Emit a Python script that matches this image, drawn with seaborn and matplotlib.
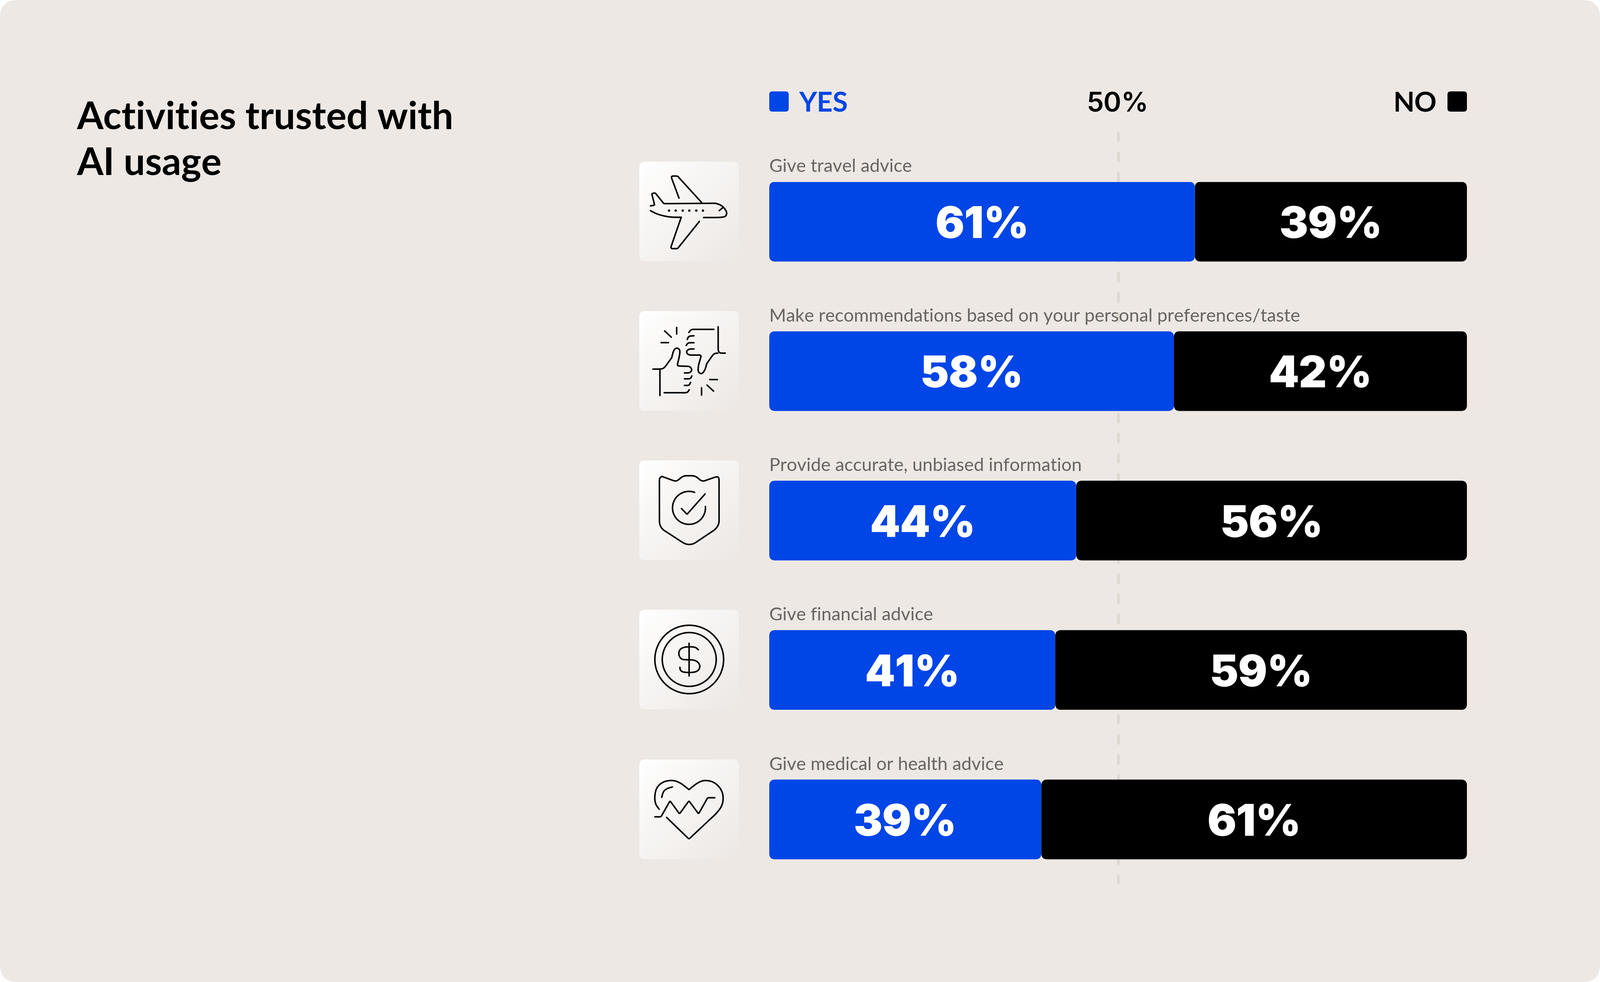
import numpy as np
import pandas as pd
import seaborn as sns
import matplotlib
matplotlib.use("Agg")
import matplotlib.pyplot as plt
from matplotlib.patches import FancyBboxPatch

# ---------- data ----------
activities = [
    "Give travel advice",
    "Make recommendations based on your personal preferences/taste",
    "Provide accurate, unbiased information",
    "Give financial advice",
    "Give medical or health advice",
]
yes_values = [61, 58, 44, 41, 39]
no_values = [39, 42, 56, 59, 61]
reference_line = 50
title_lines = ["Activities trusted with", "AI usage"]

# ---------- style ----------
W, H = 4112, 2525
BG = "#EDE8E4"
BLUE = "#0045E6"
BLACK = "#000000"
GREY = "#666461"
DASH = "#DED8D1"
sns.set_theme(style="white")
plt.rcParams["font.family"] = ["Lato", "DejaVu Sans"]

fig = plt.figure(figsize=(W / 100, H / 100), dpi=100, facecolor="white")

# pixel-space layer for page furniture
page = fig.add_axes([0, 0, 1, 1], zorder=0)
page.set_xlim(0, W)
page.set_ylim(H, 0)
page.axis("off")
page.add_patch(FancyBboxPatch((45, 45), W - 90, H - 90,
                              boxstyle="round,pad=45,rounding_size=45",
                              fc=BG, ec="none", zorder=0))


def round_corners(pts, r):
    """Replace each interior vertex by a quadratic arc cutting r px along both segments."""
    p = np.asarray(pts, float)
    if len(p) < 3:
        return p
    out = [p[0]]
    t = np.linspace(0, 1, 14)[:, None]
    for i in range(1, len(p) - 1):
        a, b, c = p[i - 1], p[i], p[i + 1]
        la, lc = np.linalg.norm(a - b), np.linalg.norm(c - b)
        s = b + (a - b) * min(r, la / 2) / la
        e = b + (c - b) * min(r, lc / 2) / lc
        out.extend((1 - t) ** 2 * s + 2 * t * (1 - t) * b + t ** 2 * e)
    out.append(p[-1])
    return np.vstack(out)


# ---------- icons (strokes in the tracing space: corner radius, points) ----------
TILE_X = 1643
TILE_W = 256
TILE_H = 256
TILE_BOTTOMS = [672, 1056, 1440, 1824, 2209]
grad = np.linspace(0, 1, 256)
gx, gy = np.meshgrid(grad, grad)
g = ((gx + gy) / 2)[..., None]
top = np.array(matplotlib.colors.to_rgb("#FFFFFF"))
bot = np.array(matplotlib.colors.to_rgb(BG))
tile_img = top * (1 - g) + bot * g

SOFT = 1000
plane = dict(sx=1.568, sy=3.0, ox=68, oy=705, strokes=[
    (3, [(228, 985), (197, 825), (200, 815), (222, 815), (322, 1025)]),
    (3, [(113, 1045), (130, 1040), (118, 950), (132, 945), (167, 1028), (375, 1025)]),
    (SOFT, [(375, 1025), (400, 1040), (420, 1085), (420, 1115), (410, 1135), (327, 1135)]),
    (3, [(390, 1082), (407, 1055)]),
    (SOFT, [(113, 1082), (140, 1110), (190, 1133), (237, 1133)]),
    (3, [(237, 1133), (195, 1365), (198, 1375), (222, 1375), (310, 1165)]),
], dots=[(187, 1081), (214, 1081), (242, 1081), (269, 1081), (297, 1081), (324, 1081)])
thumbs = dict(sx=3.0, sy=2.24, ox=130, oy=42, strokes=[
    (3, [(290, 380), (290, 528)]),
    (10, [(235, 376), (290, 376), (320, 372), (380, 310)]),
    (SOFT, [(380, 310), (395, 265), (420, 252), (445, 265), (440, 300), (425, 345)]),
    (6, [(425, 345), (425, 358), (520, 360), (538, 380), (520, 398), (478, 398)]),
    (6, [(478, 432), (525, 432), (535, 415)]),
    (6, [(478, 470), (515, 470), (525, 452)]),
    (6, [(322, 512), (500, 512), (515, 495)]),
    (6, [(738, 132), (738, 270), (750, 284), (793, 284)]),
    (10, [(735, 284), (705, 286), (650, 345)]),
    (SOFT, [(650, 345), (635, 385), (610, 405), (585, 395), (582, 365), (605, 305)]),
    (6, [(605, 305), (605, 295), (510, 295), (490, 278), (510, 260), (552, 260)]),
    (6, [(552, 224), (505, 224), (492, 240)]),
    (6, [(552, 184), (510, 186), (500, 205)]),
    (6, [(705, 147), (530, 147), (512, 165)]),
    (3, [(417, 135), (417, 175)]), (3, [(325, 156), (377, 192)]), (3, [(297, 223), (355, 223)]),
    (3, [(673, 436), (732, 436)]), (3, [(652, 468), (703, 503)]), (3, [(611, 484), (611, 525)]),
], dots=[])
shield = dict(sx=3.0, sy=2.24, ox=130, oy=905, strokes=[
    (8, [(305, 997), (285, 1005), (285, 1270), (305, 1300), (480, 1385), (515, 1390), (550, 1385), (720, 1300),
         (745, 1270), (745, 1005), (730, 997), (615, 1027), (560, 993), (470, 993), (415, 1027), (305, 997)]),
    (2, [(455, 1182), (498, 1215), (637, 1098)]),
], dots=[], arcs=[((513, 1178), 127, 95, 70, 365)])
coin = dict(sx=3.0, sy=2.24, ox=130, oy=62, strokes=[
    (2, [(515, 255), (515, 443)]),
    (SOFT, [(585, 292), (560, 275), (480, 275), (440, 290), (432, 320), (450, 345), (480, 350), (560, 350),
            (598, 375), (595, 405), (560, 423), (470, 423), (445, 410), (443, 393)]),
], dots=[], arcs=[((515, 348), 265, 197, 0, 360), ((515, 348), 208, 155, 0, 360)])
heart = dict(sx=3.0, sy=2.24, ox=130, oy=922, strokes=[
    (SOFT, [(283, 1208), (255, 1180), (247, 1140), (260, 1085), (310, 1050), (380, 1040), (440, 1052), (513, 1095)]),
    (SOFT, [(513, 1095), (585, 1052), (640, 1040), (710, 1052), (765, 1095), (780, 1145), (765, 1195), (720, 1235)]),
    (3, [(720, 1235), (513, 1380), (340, 1255)]),
    (SOFT, [(303, 1140), (315, 1105), (345, 1088), (385, 1080)]),
    (3, [(250, 1252), (297, 1252), (367, 1160), (440, 1235), (513, 1160), (587, 1235), (657, 1142), (712, 1142)]),
], dots=[])
icons = [plane, thumbs, shield, coin, heart]

for bottom, ic in zip(TILE_BOTTOMS, icons):
    ty = bottom - TILE_H
    im = page.imshow(tile_img, extent=(TILE_X, TILE_X + TILE_W, ty + TILE_H, ty),
                     aspect="auto", zorder=1, interpolation="bilinear")
    clip = FancyBboxPatch((TILE_X + 14, ty + 14), TILE_W - 28, TILE_H - 28,
                          boxstyle="round,pad=14,rounding_size=14",
                          transform=page.transData, fc="none", ec="none")
    page.add_patch(clip)
    im.set_clip_path(clip)

    def to_tile(points):
        p = np.asarray(points, float)
        return np.c_[TILE_X + (p[:, 0] - ic["ox"]) / ic["sx"], ty + (p[:, 1] - ic["oy"]) / ic["sy"]]

    for r, s in ic["strokes"]:
        pts = round_corners(to_tile(s), r)
        page.plot(pts[:, 0], pts[:, 1], color="black", lw=2.8, solid_capstyle="round",
                  solid_joinstyle="round", zorder=2)
    for (cx, cy), rx, ry, a0, a1 in ic.get("arcs", []):
        t = np.radians(np.linspace(a0, a1, 120))
        pts = to_tile(np.c_[cx + rx * np.cos(t), cy - ry * np.sin(t)])
        page.plot(pts[:, 0], pts[:, 1], color="black", lw=2.8, solid_capstyle="round", zorder=2)
    if ic["dots"]:
        d = to_tile(ic["dots"])
        page.scatter(d[:, 0], d[:, 1], s=20, color="black", linewidths=0, zorder=2)
page.set_xlim(0, W)
page.set_ylim(H, 0)

# ---------- title ----------
for i, line in enumerate(title_lines):
    page.text(198, 331 + i * 119, line, fontsize=70.5, fontweight="bold", color="black",
              ha="left", va="baseline", zorder=3)

# ---------- bars ----------
BAR_L, BAR_R = 1977, 3770
ROW = 384.25
FIRST_C = 570
ax_top, ax_bot = 330, 2290
ax = fig.add_axes([BAR_L / W, 1 - ax_bot / H, (BAR_R - BAR_L) / W, (ax_bot - ax_top) / H], zorder=1)
ax.patch.set_alpha(0)

df = pd.DataFrame({"activity": activities, "yes": yes_values, "no": no_values})
BAR_FRAC = 205 / ROW
px2y = 1 / ROW

ax.vlines(reference_line, (338 - FIRST_C) * px2y, (2272 - FIRST_C) * px2y,
          color=DASH, lw=5.04, linestyles=(0, (3.71, 3.67)), capstyle="butt", zorder=0)

sns.barplot(data=df, x="yes", y="activity", orient="h", color=BLUE, width=BAR_FRAC,
            saturation=1, linewidth=0, ax=ax, zorder=2)
sns.barplot(data=df, x="no", y="activity", orient="h", color=BLACK, width=BAR_FRAC,
            saturation=1, linewidth=0, ax=ax, left=yes_values, zorder=2)
ax.set_xlim(0, 100)
ax.set_ylim((ax_bot - FIRST_C) * px2y, (ax_top - FIRST_C) * px2y)
ax.set_xlabel("")
ax.set_ylabel("")
ax.axis("off")

# rounded corners on the seaborn bars
rx_data = 15 * 100 / (BAR_R - BAR_L)
aspect = (15 * px2y) / rx_data
for bar in list(ax.patches):
    x0, y0, w_, h_ = bar.get_x(), bar.get_y(), bar.get_width(), bar.get_height()
    pad = rx_data
    clip = FancyBboxPatch((x0 + pad, y0 + pad * aspect), w_ - 2 * pad, h_ - 2 * pad * aspect,
                          boxstyle=f"round,pad={pad},rounding_size={pad}", mutation_aspect=aspect,
                          transform=ax.transData, fc="none", ec="none")
    ax.add_patch(clip)
    bar.set_clip_path(clip)

for cont in ax.containers:
    for ann in ax.bar_label(cont, fmt="%d%%", label_type="center", color="white", fontsize=80,
                            fontweight=900, family=["Inter", "DejaVu Sans"]):
        ann.xyann = (0, -9)

# row captions sit just above each bar
for i, name in enumerate(activities):
    ax.text(0, i - BAR_FRAC / 2 - 25 * px2y, name, fontsize=33.7, color=GREY, ha="left", va="baseline")

# legend
page.add_patch(FancyBboxPatch((1977 + 8, 235 + 8), 50 - 16, 52 - 16, boxstyle="round,pad=8,rounding_size=8",
                              fc=BLUE, ec="none", zorder=3))
page.add_patch(FancyBboxPatch((3720 + 8, 235 + 8), 50 - 16, 52 - 16, boxstyle="round,pad=8,rounding_size=8",
                              fc=BLACK, ec="none", zorder=3))
page.text(2053, 287, "YES", fontsize=51, fontweight="bold", color=BLUE, ha="left", va="baseline", zorder=3)
page.text(2872, 287, "50%", fontsize=50, fontweight=600, family=["Inter", "DejaVu Sans"], color="black",
          ha="center", va="baseline", zorder=3)
page.text(3692, 287, "NO", fontsize=51, fontweight="bold", color="black", ha="right", va="baseline", zorder=3)

fig.savefig("out.png", dpi=100, facecolor="white")
